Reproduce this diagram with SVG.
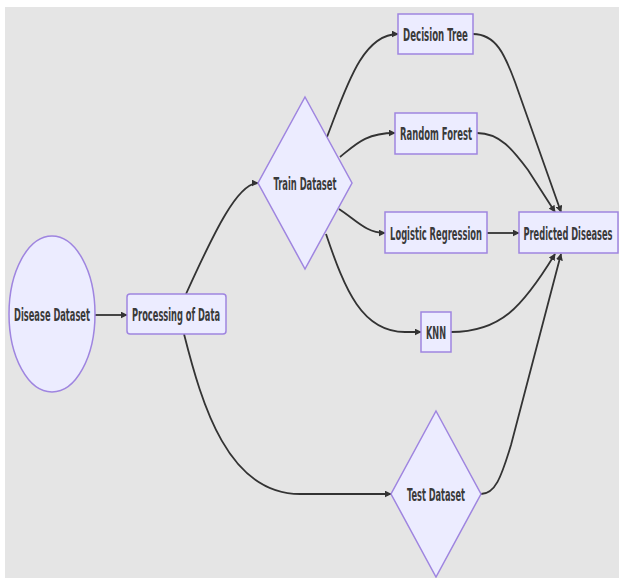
<svg xmlns="http://www.w3.org/2000/svg" width="619" height="578" viewBox="0 0 619 578">
<defs>
<style>
.node{fill:#ECECFF;stroke:#9F85E0;stroke-width:1.5}
.lbl{font-family:"DejaVu Sans Condensed","DejaVu Sans",sans-serif;font-size:18px;font-weight:bold;fill:#3a3a3a;text-anchor:middle}
.edge{fill:none;stroke:#333;stroke-width:1.8}
</style>
<marker id="arr" viewBox="0 0 10 10" refX="9" refY="5" markerWidth="7" markerHeight="7" markerUnits="userSpaceOnUse" orient="auto">
<path d="M0,0 L10,5 L0,10 z" fill="#333"/>
</marker>
</defs>
<rect x="0" y="0" width="619" height="578" fill="#ffffff"/>
<rect x="5" y="7" width="614" height="571" fill="#e5e5e5"/>
<g id="connectors">
<path class="edge" d="M95,315 L127,315" marker-end="url(#arr)"/>
<path class="edge" d="M186,294 C215,230 238,183 258,183" marker-end="url(#arr)"/>
<path class="edge" d="M184,334 C202,405 228,494 300,494 L391,494" marker-end="url(#arr)"/>
<path class="edge" d="M327,137 C346,88 362,34 398,34" marker-end="url(#arr)"/>
<path class="edge" d="M340,157 C356,144 366,133 395,133" marker-end="url(#arr)"/>
<path class="edge" d="M339,209 C356,220 366,233 385,233" marker-end="url(#arr)"/>
<path class="edge" d="M326,234 C345,290 362,332 405,332 L421,332" marker-end="url(#arr)"/>
<path class="edge" d="M473,34 C496,34 505,55 515,82 L561,212" marker-end="url(#arr)"/>
<path class="edge" d="M477,133 C500,133 513,150 528,170 L555,212" marker-end="url(#arr)"/>
<path class="edge" d="M487,233 L519,233" marker-end="url(#arr)"/>
<path class="edge" d="M451,332 C500,332 522,308 555,254" marker-end="url(#arr)"/>
<path class="edge" d="M481,494 C495,494 501,478 511,445 L561,254" marker-end="url(#arr)"/>
</g>
<g id="disease-dataset">
<ellipse class="node" cx="52" cy="314" rx="43" ry="78"/>
<text class="lbl" transform="translate(52,321) scale(0.55,1)" textLength="138" lengthAdjust="spacingAndGlyphs">Disease Dataset</text>
</g>
<g id="processing-of-data">
<rect class="node" x="127" y="294" width="99" height="40" rx="3"/>
<text class="lbl" transform="translate(176,321) scale(0.55,1)" textLength="160" lengthAdjust="spacingAndGlyphs">Processing of Data</text>
</g>
<g id="train-dataset">
<polygon class="node" points="305,97 352,183 305,269 258,183"/>
<text class="lbl" transform="translate(305,190) scale(0.55,1)" textLength="114.5" lengthAdjust="spacingAndGlyphs">Train Dataset</text>
</g>
<g id="decision-tree">
<rect class="node" x="398" y="14" width="75" height="40"/>
<text class="lbl" transform="translate(435.5,41) scale(0.55,1)" textLength="118" lengthAdjust="spacingAndGlyphs">Decision Tree</text>
</g>
<g id="random-forest">
<rect class="node" x="395" y="113" width="82" height="41"/>
<text class="lbl" transform="translate(436,140) scale(0.55,1)" textLength="131" lengthAdjust="spacingAndGlyphs">Random Forest</text>
</g>
<g id="logistic-regression">
<rect class="node" x="385" y="212" width="102" height="41"/>
<text class="lbl" transform="translate(436,239.5) scale(0.55,1)" textLength="167" lengthAdjust="spacingAndGlyphs">Logistic Regression</text>
</g>
<g id="knn">
<rect class="node" x="421" y="312" width="30" height="40"/>
<text class="lbl" transform="translate(436,339) scale(0.55,1)" textLength="36.4" lengthAdjust="spacingAndGlyphs">KNN</text>
</g>
<g id="predicted-diseases">
<rect class="node" x="519" y="212" width="99" height="41"/>
<text class="lbl" transform="translate(568,239.5) scale(0.55,1)" textLength="162" lengthAdjust="spacingAndGlyphs">Predicted Diseases</text>
</g>
<g id="test-dataset">
<polygon class="node" points="436,411 481,494 436,577 391,494"/>
<text class="lbl" transform="translate(436,500.5) scale(0.55,1)" textLength="105.5" lengthAdjust="spacingAndGlyphs">Test Dataset</text>
</g>
</svg>
